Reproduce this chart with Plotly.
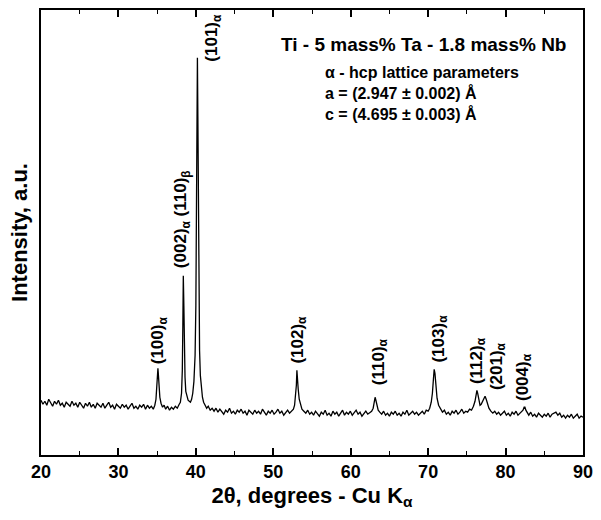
import plotly.graph_objects as go

# ---- data (2theta in degrees, intensity in a.u.) ----
two_theta = [
    20.00, 20.25, 20.50, 20.75, 21.00, 21.25, 21.50, 21.75, 22.00, 22.25, 22.50, 22.75,
    23.00, 23.25, 23.50, 23.75, 24.00, 24.25, 24.50, 24.75, 25.00, 25.25, 25.50, 25.75,
    26.00, 26.25, 26.50, 26.75, 27.00, 27.25, 27.50, 27.75, 28.00, 28.25, 28.50, 28.75,
    29.00, 29.25, 29.50, 29.75, 30.00, 30.25, 30.50, 30.75, 31.00, 31.25, 31.50, 31.75,
    32.00, 32.25, 32.50, 32.75, 33.00, 33.25, 33.50, 33.75, 34.00, 34.25, 34.50,
    34.70, 34.85, 34.95, 35.05, 35.10, 35.15, 35.25, 35.35, 35.50, 35.70, 35.90,
    36.10, 36.35, 36.60, 36.85, 37.10, 37.35, 37.60, 37.85, 38.00, 38.15, 38.25,
    38.32, 38.38, 38.45, 38.52, 38.60, 38.70, 38.85, 39.00, 39.15, 39.30, 39.45,
    39.60, 39.75, 39.90, 40.00, 40.08, 40.14, 40.20, 40.26, 40.32, 40.40, 40.48,
    40.58, 40.70, 40.85, 41.00, 41.20, 41.40, 41.60, 41.85, 42.10,
    42.35, 42.60, 42.85, 43.10, 43.35, 43.60, 43.85, 44.10, 44.35, 44.60, 44.85,
    45.10, 45.35, 45.60, 45.85, 46.10, 46.35, 46.60, 46.85, 47.10, 47.35, 47.60,
    47.85, 48.10, 48.35, 48.60, 48.85, 49.10, 49.35, 49.60, 49.85, 50.10, 50.35,
    50.60, 50.85, 51.10, 51.35, 51.60, 51.85, 52.10, 52.35, 52.60,
    52.75, 52.88, 52.98, 53.05, 53.12, 53.22, 53.35, 53.50, 53.70, 53.95, 54.20,
    54.45, 54.70, 54.95, 55.20, 55.45, 55.70, 55.95, 56.20, 56.45, 56.70, 56.95,
    57.20, 57.45, 57.70, 57.95, 58.20, 58.45, 58.70, 58.95, 59.20, 59.45, 59.70,
    59.95, 60.20, 60.45, 60.70, 60.95, 61.20, 61.45, 61.70, 61.95, 62.20, 62.45, 62.70,
    62.90, 63.05, 63.15, 63.25, 63.38, 63.55, 63.75,
    64.00, 64.25, 64.50, 64.75, 65.00, 65.25, 65.50, 65.75, 66.00, 66.25, 66.50,
    66.75, 67.00, 67.25, 67.50, 67.75, 68.00, 68.25, 68.50, 68.75, 69.00, 69.25,
    69.50, 69.75, 70.00,
    70.20, 70.40, 70.55, 70.68, 70.78, 70.88, 71.00, 71.15, 71.35, 71.60, 71.85,
    72.10, 72.35, 72.60, 72.85, 73.10, 73.35, 73.60, 73.85, 74.10, 74.35, 74.60,
    74.85, 75.10, 75.35, 75.60,
    75.85, 76.05, 76.20, 76.30, 76.40, 76.55, 76.70, 76.85, 77.00, 77.20, 77.35,
    77.50, 77.65, 77.85, 78.10, 78.35,
    78.60, 78.85, 79.10, 79.35, 79.60, 79.85, 80.10, 80.35, 80.60, 80.85, 81.10,
    81.35, 81.60, 81.85, 82.10,
    82.25, 82.40, 82.50, 82.62, 82.80,
    83.00, 83.25, 83.50, 83.75, 84.00, 84.25, 84.50, 84.75, 85.00, 85.25, 85.50,
    85.75, 86.00, 86.25, 86.50, 86.75, 87.00, 87.25, 87.50, 87.75, 88.00, 88.25,
    88.50, 88.75, 89.00, 89.25, 89.50, 89.75, 90.00,
]

intensity = [
    55, 51, 54, 50, 56, 52, 49, 54, 51, 55, 50, 52,
    48, 53, 51, 49, 54, 50, 52, 48, 53, 50, 47, 52,
    49, 53, 48, 51, 47, 52, 50, 48, 52, 47, 50, 53,
    48, 50, 46, 51, 49, 47, 51, 48, 50, 46, 49, 52,
    47, 49, 46, 50, 48, 51, 46, 50, 47, 49, 46,
    50, 56, 66, 80, 87, 82, 68, 58, 52, 48, 50,
    46, 49, 45, 48, 46, 49, 47, 51, 53, 62, 85,
    130, 180, 150, 105, 78, 64, 58, 55, 54, 53, 56,
    62, 74, 100, 150, 230, 330, 399, 340, 240, 150, 105,
    80, 66, 58, 53, 50, 47, 49, 45, 47,
    44, 47, 43, 46, 44, 41, 45, 43, 47, 42, 44,
    41, 45, 43, 46, 42, 44, 40, 45, 43, 41, 45,
    42, 44, 41, 46, 43, 40, 44, 42, 45, 41, 43,
    46, 42, 44, 40, 43, 45, 42, 44, 46,
    50, 58, 70, 85, 80, 66, 56, 50, 46, 44, 42,
    45, 41, 43, 40, 44, 42, 39, 43, 41, 45, 40,
    42, 39, 44, 41, 43, 39, 42, 45, 40, 43, 41,
    44, 40, 42, 45, 41, 43, 39, 42, 44, 41, 43, 44,
    47, 52, 58, 55, 49, 45, 43,
    41, 44, 40, 42, 39, 43, 41, 44, 40, 42, 39,
    43, 41, 45, 40, 42, 44, 41, 43, 40, 42, 44,
    41, 45, 44,
    47, 53, 62, 76, 86, 82, 68, 57, 50, 46, 43,
    45, 41, 43, 40, 44, 42, 45, 41, 43, 46, 42,
    44, 43, 46, 45,
    49, 54, 61, 65, 62, 55, 50, 51, 53, 57, 59,
    56, 52, 47, 44, 42,
    44, 41, 43, 40, 42, 44, 40, 42, 39, 43, 41,
    44, 40, 42, 43,
    45, 48, 48, 45, 42,
    40, 43, 39, 41, 38, 42, 40, 38, 41, 39, 42,
    38, 41, 42, 43, 40, 42, 38, 40, 37, 40, 38,
    41, 37, 39, 41, 37, 39, 38,
]

# reflection labels: text, x (2theta), y (intensity at label bottom)
peak_labels = ["(100)<sub>α</sub>", "(002)<sub>α</sub> (110)<sub>β</sub>", "(101)<sub>α</sub>",
               "(102)<sub>α</sub>", "(110)<sub>α</sub>", "(103)<sub>α</sub>",
               "(112)<sub>α</sub>", "(201)<sub>α</sub>", "(004)<sub>α</sub>"]
label_x = [35.35, 38.25, 42.2, 53.35, 63.7, 71.55, 76.35, 79.0, 82.35]
label_y = [89, 186, 393, 90, 68, 91, 69, 63, 52]

alloy_title = "Ti - 5 mass% Ta - 1.8 mass% Nb"
lattice_text = ["α - hcp lattice parameters", "a = (2.947 ± 0.002) Å", "c = (4.695 ± 0.003) Å"]

x_ticks = [20, 30, 40, 50, 60, 70, 80, 90]

FONT = "Liberation Sans, Arial, sans-serif"

fig = go.Figure()
fig.add_trace(go.Scatter(x=two_theta, y=intensity, mode="lines",
                         line=dict(color="black", width=1.3), showlegend=False))

for t, xv, yv in zip(peak_labels, label_x, label_y):
    fig.add_annotation(x=xv, y=yv, xref="x", yref="y", text=t, textangle=-90,
                       showarrow=False, xanchor="center", yanchor="bottom",
                       font=dict(family=FONT, size=17, color="black", weight="bold"))

fig.add_annotation(x=0.44, y=0.922, xref="paper", yref="paper", text=alloy_title,
                   showarrow=False, xanchor="left", yanchor="middle",
                   font=dict(family=FONT, size=19, color="black", weight="bold"))
fig.add_annotation(x=0.52, y=0.813, xref="paper", yref="paper", text="<br>".join(lattice_text),
                   showarrow=False, xanchor="left", yanchor="middle", align="left",
                   font=dict(family=FONT, size=16, color="black", weight="bold"))

fig.update_layout(
    width=601, height=520,
    margin=dict(l=41, r=12, t=8, b=65),
    paper_bgcolor="white", plot_bgcolor="white",
    font=dict(family=FONT, color="black"),
    xaxis=dict(range=[20, 90], tickvals=x_ticks, ticks="inside", ticklen=7, tickwidth=1.5,
               tickcolor="black", showline=True, linecolor="black", linewidth=1.5,
               mirror="ticks", showgrid=False, zeroline=False,
               tickfont=dict(family=FONT, size=18, color="black", weight="bold"),
               minor=dict(dtick=5, tick0=25, ticks="inside", ticklen=4, tickwidth=1.2,
                          tickcolor="black", showgrid=False),
               title=dict(text="2θ, degrees - Cu K<sub>α</sub>", standoff=6,
                          font=dict(family=FONT, size=22, color="black", weight="bold"))),
    yaxis=dict(range=[0, 447], showticklabels=False, ticks="", showline=True,
               linecolor="black", linewidth=1.5, mirror=True, showgrid=False, zeroline=False,
               title=dict(text="Intensity, a.u.", standoff=6,
                          font=dict(family=FONT, size=22, color="black", weight="bold"))),
)

fig.write_html("out.html")
